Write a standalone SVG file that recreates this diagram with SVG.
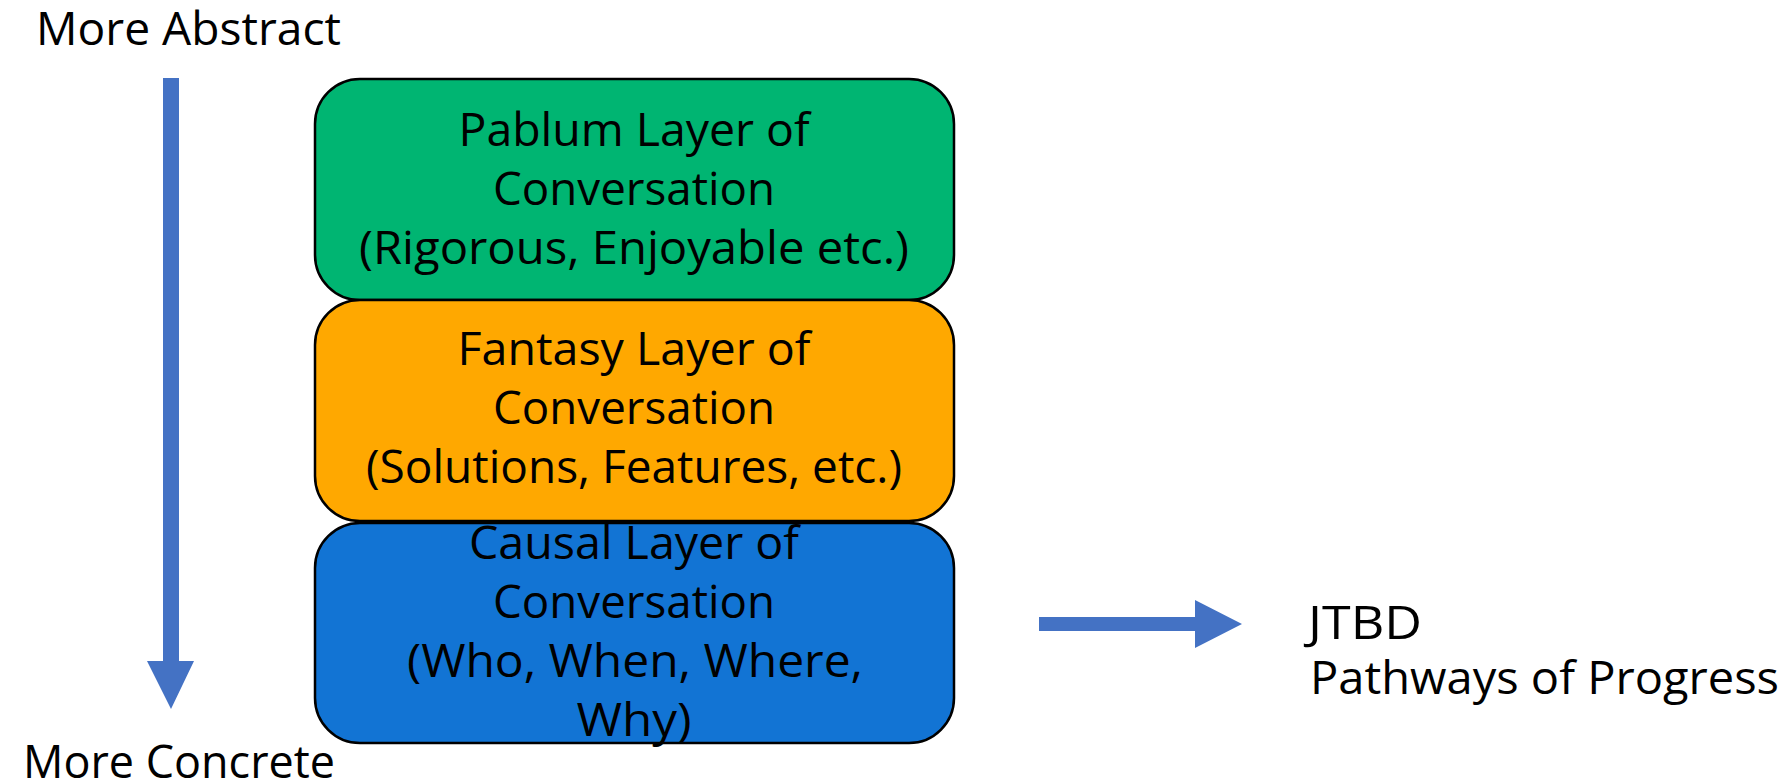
<svg xmlns="http://www.w3.org/2000/svg" width="1788" height="784" viewBox="0 0 1788 784">
  <style>
    .lbl { font-family: "Open Sans", "Liberation Sans", sans-serif; font-size: 46px; fill: #000; }
    .mid { text-anchor: middle; }
    .layer { stroke: #000; stroke-width: 2.5; }
    .arrow { fill: #4472C4; }
  </style>

  <!-- axis labels -->
  <g id="label-abstract">
    <text class="lbl" x="36" y="45" textLength="305" lengthAdjust="spacingAndGlyphs">More Abstract</text>
  </g>
  <g id="label-concrete">
    <text class="lbl" x="23" y="778" textLength="312" lengthAdjust="spacingAndGlyphs">More Concrete</text>
  </g>

  <!-- layer stack -->
  <g id="layer-pablum">
    <rect class="layer" x="315" y="79" width="639" height="221" rx="45" ry="45" fill="#00B572"/>
    <text class="lbl mid" x="634" y="146" textLength="351" lengthAdjust="spacingAndGlyphs">Pablum Layer of</text>
    <text class="lbl mid" x="634" y="205" textLength="282" lengthAdjust="spacingAndGlyphs">Conversation</text>
    <text class="lbl mid" x="634" y="264" textLength="550" lengthAdjust="spacingAndGlyphs">(Rigorous, Enjoyable  etc.)</text>
  </g>
  <g id="layer-fantasy">
    <rect class="layer" x="315" y="300" width="639" height="221" rx="45" ry="45" fill="#FFA800"/>
    <text class="lbl mid" x="634" y="365" textLength="353" lengthAdjust="spacingAndGlyphs">Fantasy Layer of</text>
    <text class="lbl mid" x="634" y="424" textLength="282" lengthAdjust="spacingAndGlyphs">Conversation</text>
    <text class="lbl mid" x="634" y="483" textLength="536" lengthAdjust="spacingAndGlyphs">(Solutions, Features, etc.)</text>
  </g>
  <g id="layer-causal">
    <rect class="layer" x="315" y="523" width="639" height="220" rx="45" ry="45" fill="#1274D4"/>
    <text class="lbl mid" x="634" y="559" textLength="330" lengthAdjust="spacingAndGlyphs">Causal Layer of</text>
    <text class="lbl mid" x="634" y="618" textLength="282" lengthAdjust="spacingAndGlyphs">Conversation</text>
    <text class="lbl mid" x="635" y="677" textLength="456" lengthAdjust="spacingAndGlyphs">(Who, When, Where,</text>
    <text class="lbl mid" x="634" y="736" textLength="115" lengthAdjust="spacingAndGlyphs">Why)</text>
  </g>

  <!-- outcome label -->
  <g id="label-jtbd">
    <text class="lbl" x="1308" y="639" textLength="114" lengthAdjust="spacingAndGlyphs">JTBD</text>
    <text class="lbl" x="1310" y="694" textLength="469" lengthAdjust="spacingAndGlyphs">Pathways of Progress</text>
  </g>

  <!-- block arrows -->
  <g id="connectors">
    <polygon class="arrow" points="163,78 179,78 179,661 194,661 171,709 147,661 163,661"/>
    <polygon class="arrow" points="1039,617 1195,617 1195,600 1242,624 1195,648 1195,631 1039,631"/>
  </g>
</svg>
